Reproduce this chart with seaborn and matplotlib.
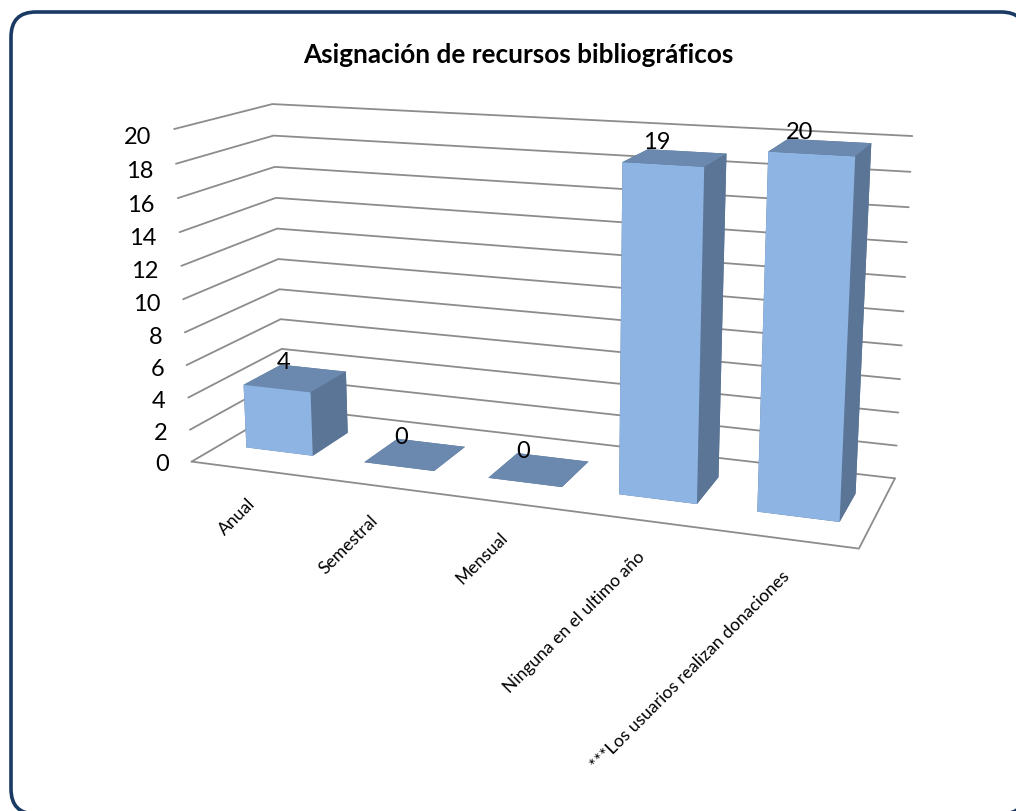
import numpy as np
import matplotlib
matplotlib.use('Agg')
import matplotlib.pyplot as plt
from matplotlib.patches import FancyBboxPatch
from matplotlib.transforms import IdentityTransform
from mpl_toolkits.mplot3d import proj3d
import seaborn as sns

####### Data #######
categories = ['Anual', 'Semestral', 'Mensual', 'Ninguna en el ultimo año', '***Los usuarios realizan donaciones']
values = [4, 0, 0, 19, 20]
z_ticks = [0, 2, 4, 6, 8, 10, 12, 14, 16, 18, 20]
title = 'Asignación de recursos bibliográficos'

####### Style #######
sns.set_theme(style='white')
plt.rcParams['font.family'] = ['Lato', 'DejaVu Sans']

front_c = '#8EB4E3'
top_c = '#6B88AE'
side_c = '#5B7596'
grid_c = '#8C8C8C'
navy = '#1B3A63'

W_px, H_px = 1016, 812
fig = plt.figure(figsize=(W_px / 100, H_px / 100), dpi=100, facecolor='white')

# camera fitted on the floor and wall corners of the reference
ax = fig.add_axes([138.2 / W_px, 106.2 / H_px, 778.1 / W_px, 778.1 / H_px], projection='3d')
ax.patch.set_alpha(0)
ax.set_xlim(0, len(categories), view_margin=0)
ax.set_ylim(0, 1, view_margin=0)
ax.set_zlim(0, 20, view_margin=0)
ax.view_init(elev=14.061, azim=-69.559, roll=0.102)
ax.set_proj_type('persp', focal_length=0.4162)
ax.set_box_aspect((1.9967, 0.5748, 1))
ax.set_axis_off()
ax.computed_zorder = False

n = len(categories)
M = ax.get_proj()


# Text3D ignores rotation, so project the position and write it as 2D text
def put_text(x, y, z, s, **kw):
    x2, y2, _ = proj3d.proj_transform(x, y, z, M)
    return ax.text2D(x2, y2, s, transform=ax.transData, color='black', clip_on=False, zorder=10, **kw)


# walls: every gridline runs along the left wall and then the back wall
for z in z_ticks:
    ax.plot([0, 0, n], [0, 1, 1], [z, z, z], color=grid_c, lw=1.3, zorder=1, clip_on=False)
    put_text(-0.195, 0, z - 0.3 - z * 0.01, str(z), ha='right', va='center', fontsize=17)
ax.plot([0, n, n], [0, 0, 1], [0, 0, 0], color=grid_c, lw=1.3, zorder=1, clip_on=False)

# bars
bar_w = 0.57
bar_d = 0.41
for i, v in enumerate(values):
    ax.bar3d(i + 0.505 - bar_w / 2, 0.505 - bar_d / 2, 0, bar_w, bar_d, v,
             color=[side_c, top_c, front_c, side_c, side_c, side_c],
             shade=False, zorder=2 + i, linewidth=0, edgecolor='none')
    put_text(i + 0.33, 0.6, v + 0.65, str(v), ha='center', va='center', fontsize=17)

# category labels
for i, c in enumerate(categories):
    put_text(i * 0.985 + 0.635, -0.15, -1.17, c, rotation=45, rotation_mode='anchor', ha='right', va='center',
             fontsize=12.6)

# frame, runs off the bottom and right of the picture
r = 25
frame = FancyBboxPatch((11 + r, -3 + r), 1026 - 11 - 2 * r, 798 + 3 + 1 - 2 * r,
                       boxstyle='round,pad=%d,rounding_size=%d' % (r, r), transform=IdentityTransform(),
                       fc='white', ec=navy, lw=2.6, zorder=-1)
fig.add_artist(frame)

fig.text(518 / W_px, 1 - 55 / H_px, title, ha='center', va='center', fontsize=18.8, fontweight='bold',
         color='black')

fig.savefig('out.png', dpi=100)
